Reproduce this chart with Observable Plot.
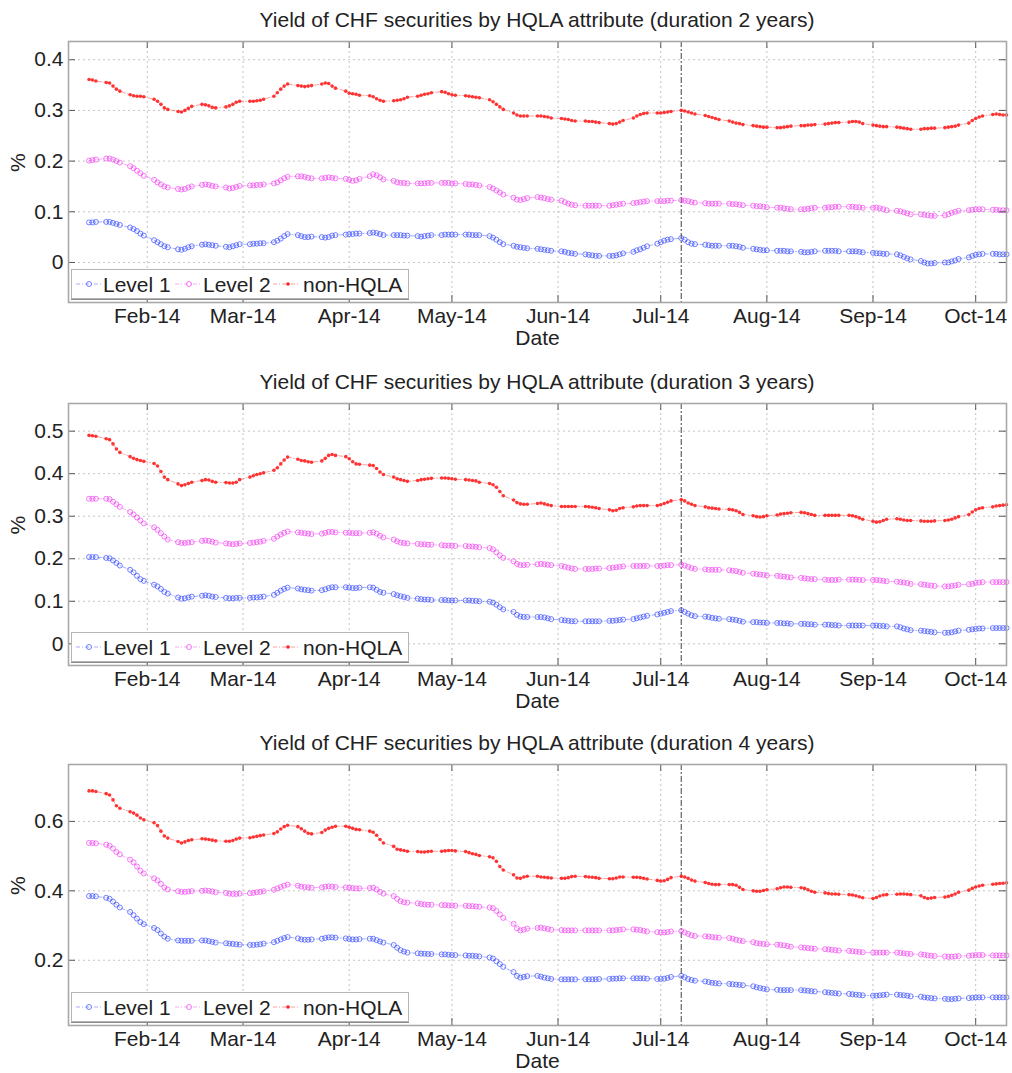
<!DOCTYPE html>
<html>
<head>
<meta charset="utf-8">
<script src="https://cdn.jsdelivr.net/npm/d3@7"></script>
<script src="https://cdn.jsdelivr.net/npm/@observablehq/plot@0.6"></script>
<style>
  html, body { margin: 0; padding: 0; background: #fff; }
  body { font-family: "Liberation Sans", Arial, Helvetica, sans-serif; color: #222; }
  #root { position: relative; width: 1012px; height: 1073px; overflow: hidden; background: #fff; }
  .panel { position: absolute; left: 0; width: 1012px; }
  .title { position: absolute; left: 68px; width: 938px; text-align: center; font-size: 21px; line-height: 24px; color: #222; white-space: nowrap; }
  .legend { position: absolute; left: 71px; width: 336px; height: 28px; background: #fff; border: 1px solid #b5b5b5; box-shadow: 0 1px 0 #8a8a8a; }
</style>
</head>
<body>
<div id="root"></div>
<script>
// ---------------- data ----------------
const seriesNames = ["Level 1", "Level 2", "non-HQLA"];
const seriesColors = ["#3347ff", "#f23cf2", "#ff2020"];
const monthTicks = ["2014-02-01","2014-03-01","2014-04-01","2014-05-01","2014-06-01","2014-07-01","2014-08-01","2014-09-01","2014-10-01"];
const xStart = "2014-01-09", xEnd = "2014-10-10";
const firstDay = "2014-01-15", lastDay = "2014-10-10";   // business days
const markerDate = "2014-07-07";
const titles = [
  "Yield of CHF securities by HQLA attribute (duration 2 years)",
  "Yield of CHF securities by HQLA attribute (duration 3 years)",
  "Yield of CHF securities by HQLA attribute (duration 4 years)"
];
const yTicks2 = [0, 0.1, 0.2, 0.3, 0.4];
const yTicks3 = [0, 0.1, 0.2, 0.3, 0.4, 0.5];
const yTicks4 = [0.2, 0.4, 0.6];
const yDomain2 = [-0.079, 0.436];
const yDomain3 = [-0.051, 0.565];
const yDomain4 = [0.012, 0.764];

// duration 2 years
const d2_level1 = [
.079,.079,.080,
.080,.080,.078,.076,.074, .069,.066,.062,.057,.053, .044,.040,.036,.032,.030, .026,.025,.027,.030,.032,
.035,.036,.035,.034,.033, .031,.030,.032,.034,.036, .036,.037,.037,.038,.038, .040,.043,.047,.052,.056,
.054,.052,.050,.050,.051, .050,.049,.050,.053,.054, .055,.056,.056,.057,.057, .058,.059,.058,.056,.054,
.054,.054,.054,.053,.053, .052,.051,.052,.053,.054, .054,.055,.055,.055,.055, .055,.055,.054,.054,.054,
.052,.049,.045,.040,.036, .033,.031,.030,.029,.028, .027,.026,.025,.024,.023, .022,.021,.019,.018,.017,
.016,.015,.014,.013,.013, .013,.013,.014,.016,.018, .021,.024,.026,.029,.032, .037,.040,.043,.045,.046,
.048,.045,.040,.037,.036, .035,.034,.033,.033,.033, .033,.033,.032,.031,.029, .027,.026,.025,.024,.024,
.023,.023,.023,.022,.022, .021,.020,.020,.021,.022, .023,.023,.023,.023,.022, .022,.022,.022,.021,.020,
.019,.018,.018,.017,.017, .016,.014,.011,.008,.006, .003,.000,-.002,-.002,-.001, .000,.000,.002,.004,.007,
.010,.013,.015,.016,.017, .017,.017,.016,.016,.016
];
const d2_level2 = [
.201,.202,.203,
.205,.205,.203,.200,.197, .190,.186,.181,.176,.171, .163,.158,.154,.150,.148, .145,.144,.145,.148,.150,
.153,.154,.153,.151,.150, .148,.146,.147,.149,.151, .152,.152,.153,.153,.154, .156,.158,.162,.166,.169,
.170,.170,.169,.167,.166, .166,.167,.168,.167,.166, .165,.163,.161,.162,.165, .170,.174,.172,.168,.164,
.161,.158,.157,.157,.156, .156,.156,.156,.157,.157, .157,.157,.157,.156,.156, .155,.154,.154,.153,.152,
.149,.146,.142,.138,.134, .128,.124,.123,.125,.127, .129,.128,.127,.125,.124, .122,.119,.116,.114,.113,
.112,.112,.112,.112,.112, .112,.113,.114,.115,.116, .117,.118,.119,.120,.121, .121,.121,.121,.122,.122,
.123,.122,.121,.119,.118, .117,.116,.116,.116,.116, .116,.115,.115,.114,.113, .112,.111,.111,.110,.109,
.108,.108,.107,.106,.105, .105,.105,.106,.107,.108, .108,.109,.109,.110,.110, .110,.110,.109,.109,.108,
.108,.108,.107,.105,.103, .102,.101,.099,.097,.095, .095,.094,.093,.092,.092, .093,.095,.098,.100,.102,
.103,.104,.105,.105,.105, .104,.104,.103,.103,.103
];
const d2_nonhqla = [
.361,.360,.358,
.355,.354,.348,.342,.338, .331,.329,.328,.328,.327, .322,.318,.312,.305,.302, .298,.297,.300,.304,.308,
.312,.311,.309,.306,.305, .307,.309,.312,.316,.318, .318,.318,.319,.320,.322, .328,.335,.342,.348,.352,
.349,.348,.347,.348,.349, .352,.354,.353,.348,.344, .338,.334,.333,.332,.330, .329,.327,.323,.320,.318,
.319,.320,.321,.323,.326, .328,.330,.332,.333,.335, .337,.336,.333,.331,.330, .329,.328,.327,.326,.325,
.321,.317,.312,.307,.302, .295,.291,.289,.289,.289, .289,.289,.288,.287,.285, .284,.283,.282,.280,.279,
.279,.278,.278,.277,.276, .274,.273,.274,.277,.280, .285,.289,.292,.294,.295, .295,.295,.296,.297,.298,
.300,.299,.297,.295,.293, .290,.288,.286,.284,.282, .279,.277,.275,.274,.272, .270,.269,.268,.267,.267,
.266,.266,.267,.268,.269, .270,.270,.271,.271,.272, .273,.274,.275,.276,.276, .277,.278,.278,.277,.274,
.271,.270,.269,.268,.268, .267,.266,.265,.264,.263, .263,.264,.264,.265,.265, .266,.267,.268,.269,.271,
.275,.280,.284,.287,.289, .292,.293,.292,.291,.291
];

// duration 3 years
const d3_level1 = [
.204,.204,.204,
.202,.201,.196,.190,.184, .174,.168,.160,.152,.148, .139,.135,.129,.122,.118, .109,.106,.107,.109,.111,
.113,.114,.113,.111,.110, .108,.107,.107,.108,.108, .108,.109,.109,.110,.111, .115,.120,.125,.129,.132,
.130,.128,.127,.126,.125, .126,.128,.131,.133,.133, .133,.132,.131,.131,.132, .133,.132,.127,.122,.120,
.117,.114,.112,.110,.108, .106,.105,.104,.104,.103, .103,.103,.102,.102,.102, .102,.102,.101,.101,.100,
.099,.097,.092,.086,.081, .075,.068,.064,.063,.063, .063,.063,.062,.060,.058, .056,.055,.054,.053,.053,
.053,.053,.053,.053,.053, .054,.054,.055,.056,.057, .058,.060,.062,.064,.066, .069,.071,.073,.075,.077,
.079,.075,.071,.067,.065, .064,.063,.061,.060,.059, .058,.057,.056,.054,.052, .051,.051,.050,.050,.049,
.049,.049,.048,.048,.047, .047,.047,.046,.046,.045, .045,.045,.044,.044,.043, .043,.043,.043,.043,.043,
.043,.043,.042,.042,.041, .041,.039,.036,.034,.032, .031,.030,.029,.028,.027, .026,.026,.027,.029,.031,
.033,.034,.035,.036,.036, .037,.037,.037,.037,.037
];
const d3_level2 = [
.341,.341,.341,
.341,.340,.334,.328,.322, .310,.304,.297,.290,.283, .274,.268,.260,.252,.245, .239,.237,.237,.238,.239,
.242,.243,.242,.240,.238, .236,.235,.234,.235,.236, .237,.238,.239,.240,.242, .247,.252,.257,.261,.264,
.262,.261,.260,.259,.258, .259,.261,.263,.263,.262, .261,.261,.260,.260,.260, .261,.262,.259,.254,.250,
.245,.241,.238,.237,.236, .235,.234,.234,.233,.233, .232,.231,.231,.231,.230, .230,.229,.229,.228,.227,
.225,.222,.215,.208,.202, .194,.188,.185,.185,.186, .187,.188,.187,.186,.185, .183,.181,.179,.177,.176,
.176,.176,.176,.177,.177, .178,.179,.180,.181,.182, .183,.183,.183,.183,.183, .183,.183,.184,.185,.185,
.186,.184,.181,.178,.176, .175,.174,.174,.174,.174, .173,.172,.171,.169,.167, .165,.164,.163,.162,.161,
.160,.159,.158,.157,.156, .155,.154,.153,.152,.152, .151,.150,.150,.150,.151, .151,.151,.151,.150,.150,
.150,.150,.149,.148,.147, .146,.145,.144,.143,.141, .140,.139,.138,.137,.136, .135,.135,.136,.137,.139,
.140,.141,.143,.144,.145, .145,.145,.145,.145,.145
];
const d3_nonhqla = [
.490,.489,.488,
.482,.480,.470,.458,.450, .440,.436,.433,.431,.429, .424,.418,.405,.392,.386, .376,.372,.374,.377,.380,
.384,.386,.385,.382,.380, .379,.378,.378,.380,.386, .392,.395,.398,.400,.402, .408,.414,.423,.432,.439,
.434,.431,.430,.428,.427, .430,.436,.443,.445,.443, .440,.435,.428,.423,.422, .420,.419,.412,.404,.398,
.392,.388,.386,.384,.382, .384,.386,.387,.388,.389, .390,.390,.389,.388,.387, .386,.385,.384,.383,.380,
.377,.374,.368,.358,.348, .338,.332,.329,.328,.328, .330,.331,.329,.327,.325, .323,.323,.323,.323,.323,
.323,.322,.321,.320,.318, .315,.313,.314,.318,.320, .322,.324,.325,.325,.325, .325,.327,.330,.333,.336,
.339,.336,.331,.328,.325, .322,.320,.319,.318,.317, .316,.315,.313,.309,.304, .301,.299,.298,.299,.301,
.303,.305,.306,.307,.308, .309,.308,.306,.304,.302, .302,.302,.302,.302,.302, .302,.301,.299,.296,.293,
.288,.286,.287,.290,.293, .294,.293,.291,.290,.290, .289,.288,.288,.288,.289, .290,.291,.293,.296,.299,
.304,.310,.315,.318,.320, .322,.324,.325,.326,.327
];

// duration 4 years
const d4_level1 = [
.385,.385,.384,
.380,.377,.369,.360,.352, .339,.330,.320,.310,.304, .293,.287,.277,.268,.262, .257,.256,.256,.256,.256,
.257,.257,.255,.253,.251, .249,.248,.247,.246,.245, .244,.244,.245,.246,.248, .252,.256,.260,.264,.267,
.263,.260,.259,.259,.260, .262,.264,.266,.266,.265, .263,.261,.260,.260,.261, .262,.262,.258,.254,.251,
.244,.236,.229,.225,.222, .220,.219,.219,.218,.218, .217,.217,.216,.215,.215, .214,.213,.213,.212,.211,
.208,.205,.197,.189,.181, .166,.155,.150,.152,.154, .155,.153,.150,.148,.146, .145,.145,.145,.145,.145,
.145,.145,.145,.145,.146, .146,.147,.147,.148,.148, .148,.148,.148,.148,.147, .146,.146,.147,.149,.152,
.155,.151,.146,.143,.141, .139,.137,.135,.134,.133, .132,.131,.130,.129,.128, .125,.122,.120,.118,.116,
.115,.114,.114,.114,.114, .114,.113,.112,.111,.110, .108,.107,.106,.105,.104, .103,.102,.101,.100,.099,
.098,.098,.099,.100,.101, .101,.100,.099,.098,.096, .095,.093,.092,.091,.090, .089,.088,.088,.089,.090,
.091,.092,.093,.093,.093, .093,.093,.093,.093,.093
];
const d4_level2 = [
.538,.538,.537,
.533,.530,.522,.512,.505, .490,.482,.470,.458,.450, .436,.430,.420,.410,.404, .399,.397,.397,.398,.399,
.400,.401,.400,.398,.396, .394,.392,.391,.391,.392, .393,.394,.396,.397,.399, .403,.407,.411,.415,.418,
.415,.412,.411,.410,.409, .410,.412,.413,.412,.411, .410,.409,.408,.407,.407, .408,.409,.404,.397,.392,
.385,.377,.370,.367,.366, .364,.362,.361,.360,.360, .359,.359,.358,.358,.357, .357,.356,.356,.355,.354,
.352,.350,.342,.332,.322, .305,.292,.286,.288,.291, .293,.294,.292,.290,.288, .287,.286,.286,.286,.286,
.286,.286,.286,.286,.286, .286,.286,.287,.288,.289, .289,.288,.287,.285,.283, .281,.280,.280,.281,.283,
.284,.280,.276,.272,.270, .269,.268,.267,.266,.265, .264,.262,.259,.257,.255, .252,.249,.248,.247,.246,
.245,.244,.243,.241,.239, .237,.236,.235,.234,.233, .232,.231,.230,.229,.228, .227,.226,.225,.224,.223,
.222,.222,.222,.222,.222, .222,.221,.220,.219,.218, .217,.216,.214,.213,.212, .211,.210,.210,.211,.212,
.213,.214,.215,.215,.215, .214,.214,.214,.214,.214
];
const d4_nonhqla = [
.688,.688,.686,
.680,.676,.662,.645,.638, .628,.624,.618,.610,.605, .596,.588,.572,.558,.552, .542,.538,.541,.545,.547,
.550,.549,.548,.546,.544, .543,.543,.545,.549,.552, .553,.555,.557,.559,.561, .565,.570,.578,.585,.589,
.585,.579,.572,.566,.564, .568,.575,.580,.583,.586, .586,.583,.580,.577,.576, .572,.569,.560,.548,.538,
.528,.520,.518,.516,.514, .513,.512,.512,.513,.514, .514,.515,.516,.516,.515, .513,.510,.507,.505,.502,
.498,.495,.485,.470,.460, .446,.437,.436,.440,.442, .442,.440,.439,.438,.437, .436,.436,.438,.441,.442,
.441,.440,.439,.438,.436, .435,.435,.437,.440,.440, .439,.439,.438,.436,.434, .430,.428,.429,.433,.438,
.442,.440,.436,.431,.428, .424,.421,.419,.418,.418, .418,.418,.416,.410,.404, .400,.399,.399,.401,.403,
.406,.409,.411,.411,.410, .409,.407,.403,.399,.396, .394,.392,.391,.391,.390, .389,.388,.386,.383,.380,
.378,.381,.385,.388,.389, .390,.391,.391,.390,.389, .386,.381,.378,.379,.381, .382,.384,.387,.391,.396,
.402,.407,.411,.414,.416, .419,.420,.421,.422,.423
];

// ---------------- drawing ----------------
const FONT = '"Liberation Sans", Arial, Helvetica, sans-serif';
const FS = 21;
const parse = d3.utcParse("%Y-%m-%d");
const businessDays = d3.utcDay.range(parse(firstDay), d3.utcDay.offset(parse(lastDay), 1))
  .filter(d => d.getUTCDay() !== 0 && d.getUTCDay() !== 6);
const months = monthTicks.map(parse);
const fmtMonth = d3.utcFormat("%b-%y");
const fmtY = d => d === 0 ? "0" : d3.format(".1f")(d);

const panels = [
  {title: titles[0], top: 0,   height: 350, mb: 48, dateDy: 36, domain: yDomain2, ticks: yTicks2, series: [d2_level1, d2_level2, d2_nonhqla]},
  {title: titles[1], top: 362, height: 351, mb: 48, dateDy: 36, domain: yDomain3, ticks: yTicks3, series: [d3_level1, d3_level2, d3_nonhqla]},
  {title: titles[2], top: 723, height: 350, mb: 48, dateDy: 36, domain: yDomain4, ticks: yTicks4, series: [d4_level1, d4_level2, d4_nonhqla]}
];
const MT = 41, ML = 68, MR = 6;
const root = document.getElementById("root");

panels.forEach(p => {
  const rows = [];
  p.series.forEach((vals, k) => {
    if (vals.length !== businessDays.length) console.error("length mismatch", p.title, k, vals.length, businessDays.length);
    vals.forEach((v, i) => rows.push({date: businessDays[i], v, s: seriesNames[k]}));
  });
  const frameH = p.height - MT - p.mb;
  const yr = p.domain[1] - p.domain[0];
  const tickLenY = yr * 7 / frameH;              // 7px inward tick, in data units
  const x0 = parse(xStart), x1 = parse(xEnd);
  const tickLenX = (x1 - x0) * 7 / (1012 - ML - MR);

  const chart = Plot.plot({
    width: 1012, height: p.height,
    marginTop: MT, marginLeft: ML, marginRight: MR, marginBottom: p.mb,
    style: {fontFamily: FONT, fontSize: FS + "px", color: "#222", background: "#fff", overflow: "visible"},
    x: {type: "utc", domain: [x0, x1], label: null},
    y: {domain: p.domain, label: null},
    color: {domain: seriesNames, range: seriesColors},
    marks: [
      Plot.ruleX(months, {stroke: "#c4c4c4", strokeWidth: 1, strokeDasharray: "2,3"}),
      Plot.ruleY(p.ticks, {stroke: "#c4c4c4", strokeWidth: 1, strokeDasharray: "2,3"}),
      Plot.ruleX([parse(markerDate)], {stroke: "#6f6f6f", strokeWidth: 1.3, strokeDasharray: "6,2,2,2"}),
      Plot.line(rows, {x: "date", y: "v", z: "s", stroke: "s", strokeWidth: 0.8, strokeOpacity: 0.55, strokeDasharray: "4,2,1,2"}),
      Plot.dot(rows.filter(d => d.s !== seriesNames[2]), {x: "date", y: "v", stroke: "s", r: 2.5, strokeWidth: 0.9, strokeOpacity: 0.75, fill: "none"}),
      Plot.dot(rows.filter(d => d.s === seriesNames[2]), {x: "date", y: "v", fill: "s", r: 1.8, stroke: null, fillOpacity: 0.9}),
      // inward tick marks on all four sides
      Plot.ruleX(months, {y1: p.domain[0], y2: p.domain[0] + tickLenY, stroke: "#555", strokeWidth: 1}),
      Plot.ruleX(months, {y1: p.domain[1] - tickLenY, y2: p.domain[1], stroke: "#555", strokeWidth: 1}),
      Plot.ruleY(p.ticks, {x1: x0, x2: new Date(+x0 + tickLenX), stroke: "#555", strokeWidth: 1}),
      Plot.ruleY(p.ticks, {x1: new Date(+x1 - tickLenX), x2: x1, stroke: "#555", strokeWidth: 1}),
      Plot.frame({stroke: "#a8a8a8", strokeWidth: 1.6}),
      Plot.axisX(months, {tickFormat: fmtMonth, tickSize: 0, tickPadding: 6, label: null, fontSize: FS}),
      Plot.axisY(p.ticks, {tickFormat: fmtY, tickSize: 0, tickPadding: 5, label: null, fontSize: FS}),
      Plot.text(["Date"], {frameAnchor: "bottom", lineAnchor: "middle", dy: p.dateDy, fontSize: FS, fill: "#222"}),
      Plot.text(["%"], {frameAnchor: "left", lineAnchor: "middle", dx: -50, rotate: -90, fontSize: FS, fill: "#222"})
    ]
  });

  const wrap = document.createElement("div");
  wrap.className = "panel";
  wrap.style.top = p.top + "px";
  wrap.style.height = p.height + "px";
  wrap.appendChild(chart);

  const t = document.createElement("div");
  t.className = "title";
  t.style.top = (MT - 21 - 12) + "px";
  t.textContent = p.title;
  wrap.appendChild(t);

  // legend (inside plot, bottom-left)
  const lg = document.createElement("div");
  lg.className = "legend";
  lg.style.top = (p.height - p.mb - 33) + "px";
  const svg = d3.create("svg").attr("width", 336).attr("height", 28).style("display", "block").style("font-family", FONT);
  const offs = [{l: 4, m: 17, t: 31}, {l: 103, m: 117, t: 131}, {l: 201, m: 216, t: 231}];
  seriesNames.forEach((n, k) => {
    const o = offs[k];
    svg.append("line").attr("x1", o.l).attr("x2", o.l + 26).attr("y1", 14).attr("y2", 14)
      .attr("stroke", seriesColors[k]).attr("stroke-width", 0.8).attr("stroke-opacity", 0.55).attr("stroke-dasharray", "4,2,1,2");
    if (k < 2) svg.append("circle").attr("cx", o.m).attr("cy", 14).attr("r", 2.5).attr("fill", "none")
      .attr("stroke", seriesColors[k]).attr("stroke-width", 0.9).attr("stroke-opacity", 0.75);
    else svg.append("circle").attr("cx", o.m).attr("cy", 14).attr("r", 1.8).attr("fill", seriesColors[k]);
    svg.append("text").attr("x", o.t).attr("y", 21.5).attr("font-size", FS).attr("fill", "#222").text(n);
  });
  lg.appendChild(svg.node());
  wrap.appendChild(lg);

  root.appendChild(wrap);
});
</script>
</body>
</html>
